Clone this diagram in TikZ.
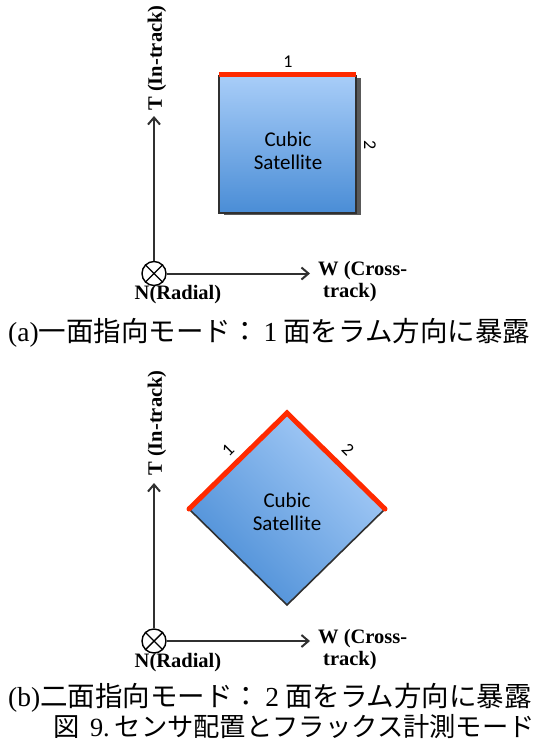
\documentclass[tikz,border=0pt]{standalone}
\usepackage{fontspec}
\setmainfont{Liberation Serif}
\newfontfamily\cjk{Noto Sans CJK JP}
\newfontfamily\calib{Carlito}
\usetikzlibrary{arrows.meta}
\definecolor{axisgray}{HTML}{303030}
\definecolor{satlight}{HTML}{A8CDF8}
\definecolor{satdark}{HTML}{4A8DD6}
\definecolor{facered}{HTML}{FF2A00}
\tikzset{
  axis/.style={draw=axisgray, line width=2pt, -{Straight Barb[length=7pt,width=12pt,line width=2pt]}},
  axlabel/.style={font=\bfseries\fontsize{20.5}{22.5}\selectfont, inner sep=0pt, align=left},
  sattext/.style={font=\calib\fontsize{21}{23.5}\selectfont, align=center, inner sep=0pt},
  facelabel/.style={font=\calib\fontsize{18}{18}\selectfont, inner sep=0pt},
  satbody/.style={draw=axisgray, line width=1.6pt},
  redface/.style={draw=facered, line width=5pt},
  caption/.style={font=\fontsize{27.5}{30}\selectfont, inner sep=0pt},
  nmark/.style={circle, draw=black, line width=1.4pt, minimum size=24pt, inner sep=0pt}
}
\begin{document}
\begin{tikzpicture}[x=1pt,y=-1pt]
\useasboundingbox (0,0) rectangle (545,747);
% ---------------- panel (a) ----------------
\node[nmark] (oa) at (154,273.5) {};
\draw[black, line width=1.4pt] (oa.north west) -- (oa.south east) (oa.north east) -- (oa.south west);
\coordinate (ta) at (154,116);
\coordinate (wa) at (310,273.5);
\draw[axis] (oa.north) -- (ta);
\draw[axis] (oa.east) -- (wa);
\node[axlabel, rotate=90] (tla) at (157,58) {T (In-track)};
\node[axlabel, anchor=north] (nla) at (178,285) {N(Radial)};
\node[axlabel, anchor=north west] (wla) at (318,261) {W (Cross-\\\hspace*{5pt}track)};
% shadow + body
\fill[black!65] (224,78) rectangle (361,215);
\path[satbody, top color=satlight, bottom color=satdark] (219,76) rectangle (356,213);
\node[sattext] (sa) at (288,151) {Cubic\\Satellite};
\draw[redface] (219,74) -- (356,74);
\node[facelabel] (f1a) at (288,62) {1};
\node[facelabel, rotate=-90] (f2a) at (370,145) {2};
\node[caption, anchor=west] (capa) at (8,333) {(a){\cjk 一面指向モード：}\hspace{5pt}1\hspace{6pt}{\cjk 面をラム方向に暴露}};
% ---------------- panel (b) ----------------
\node[nmark] (ob) at (154,641) {};
\draw[black, line width=1.4pt] (ob.north west) -- (ob.south east) (ob.north east) -- (ob.south west);
\coordinate (tb) at (154,483);
\coordinate (wb) at (310,641);
\draw[axis] (ob.north) -- (tb);
\draw[axis] (ob.east) -- (wb);
\node[axlabel, rotate=90] (tlb) at (157,423) {T (In-track)};
\node[axlabel, anchor=north] (nlb) at (178,653) {N(Radial)};
\node[axlabel, anchor=north west] (wlb) at (318,629) {W (Cross-\\\hspace*{5pt}track)};
\coordinate (dt) at (287,413);
\coordinate (dr) at (385,509);
\coordinate (db) at (287,605);
\coordinate (dl) at (189,509);
\path[satbody, top color=satlight, bottom color=satdark, shading angle=-45] (dt) -- (dr) -- (db) -- (dl) -- cycle;
\draw[redface, line cap=round, line join=miter] (dl) -- (dt) -- (dr);
\node[sattext] (sb) at (287,512) {Cubic\\Satellite};
\node[facelabel, rotate=45] (f1b) at (228,450) {1};
\node[facelabel, rotate=-45] (f2b) at (348,450) {2};
\node[caption, anchor=west] (capb) at (8,698) {(b){\cjk 二面指向モード：}\hspace{5pt}2\hspace{6pt}{\cjk 面をラム方向に暴露}};
\node[caption, anchor=east, font=\fontsize{26.3}{30}\selectfont] (capf) at (535,727) {{\cjk 図}\hspace{10pt}9.\hspace{5pt}{\cjk センサ配置とフラックス計測モード}};
\end{tikzpicture}
\end{document}
